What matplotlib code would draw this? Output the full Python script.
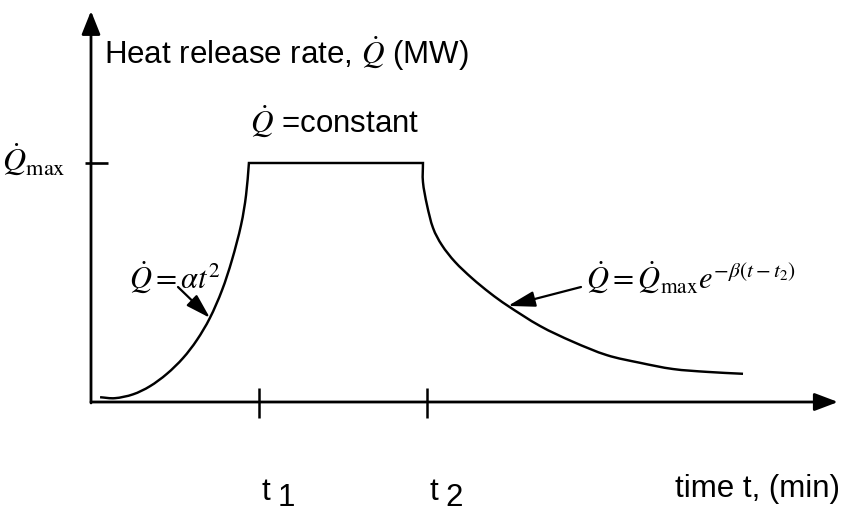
import matplotlib
matplotlib.use("Agg")
import matplotlib.pyplot as plt
from matplotlib.path import Path
from matplotlib.patches import PathPatch

plt.rcParams['font.family'] = ['Liberation Sans', 'DejaVu Sans']
plt.rcParams['mathtext.fontset'] = 'stix'

# ---------------- data (schematic values) -------------
t1, t2 = 10.0, 20.0          # min
Q_MAX = 5.0                   # MW

# growth phase  Q = alpha t^2
grow_t = [0.54, 1.43, 2.50, 3.51, 4.52, 5.48, 6.31, 7.08, 7.80, 8.39, 8.93, 9.23, 9.40]
grow_q = [0.10, 0.08, 0.16, 0.33, 0.59, 0.92, 1.30, 1.76, 2.34, 2.97, 3.70, 4.33, 5.00]

# steady phase  Q = constant
plateau_t = [9.40, 19.76]
plateau_q = [5.00, 5.00]

# decay phase  Q = Qmax exp(-beta (t - t2))
decay_t = [19.76, 19.76, 20.00, 20.36, 20.89, 21.67, 22.68, 23.75, 24.82, 26.73,
           28.69, 30.71, 32.68, 34.64, 36.67, 38.81]
decay_q = [5.00, 4.60, 4.12, 3.64, 3.28, 2.93, 2.59, 2.28, 2.01, 1.59,
           1.26, 0.98, 0.82, 0.69, 0.63, 0.59]

tick_labels = ["1", "2"]

# ---------------- layout --------------------------------------------------
W, H = 842, 515
X0, SX = 91, 16.8     # pixel of t=0, pixels per minute
Y0, SY = 402, 47.8    # pixel of Q=0, pixels per MW

fig = plt.figure(figsize=(W / 100, H / 100), dpi=100)
ax = fig.add_axes([0, 0, 1, 1])
ax.axis('off')
ax.set_xlim(-X0 / SX, (W - X0) / SX)
ax.set_ylim((Y0 - H) / SY, Y0 / SY)


def px(x, y):
    """pixel position in the figure -> data coordinates"""
    return ((x - X0) / SX, (Y0 - y) / SY)


def add_spline(verts, codes, xs, ys):
    """Catmull-Rom curve through the read points, as cubic Bezier segments."""
    pts = list(zip(xs, ys))
    n = len(pts)
    ext = [(2 * pts[0][0] - pts[1][0], 2 * pts[0][1] - pts[1][1])] + pts + \
          [(2 * pts[-1][0] - pts[-2][0], 2 * pts[-1][1] - pts[-2][1])]
    for i in range(1, n):
        p0, p1, p2, p3 = ext[i - 1], ext[i], ext[i + 1], ext[i + 2]
        c1 = (p1[0] + (p2[0] - p0[0]) / 6, p1[1] + (p2[1] - p0[1]) / 6)
        c2 = (p2[0] - (p3[0] - p1[0]) / 6, p2[1] - (p3[1] - p1[1]) / 6)
        verts += [c1, c2, p2]
        codes += [Path.CURVE4] * 3


BLACK = 'black'

# axes with arrows
ax.annotate('', xy=px(838, Y0), xytext=(0, 0),
            arrowprops=dict(arrowstyle='-|>,head_length=0.95,head_width=0.36',
                            mutation_scale=15, lw=2.0, color=BLACK,
                            shrinkA=0, shrinkB=0))
ax.annotate('', xy=px(X0, 11), xytext=(0, -0.02),
            arrowprops=dict(arrowstyle='-|>,head_length=0.95,head_width=0.38',
                            mutation_scale=15, lw=2.0, color=BLACK,
                            shrinkA=0, shrinkB=0))

# ticks
ax.plot([px(85, 0)[0], px(108, 0)[0]], [Q_MAX, Q_MAX], color=BLACK, lw=1.9,
        solid_capstyle='butt')
for tt in (t1, t2):
    ax.plot([tt, tt], [px(0, 388)[1], px(0, 418)[1]], color=BLACK, lw=1.8,
            solid_capstyle='butt')

# fire curve: growth -> plateau -> decay
verts = [(grow_t[0], grow_q[0])]
codes = [Path.MOVETO]
add_spline(verts, codes, grow_t, grow_q)
verts.append((plateau_t[1], plateau_q[1]))
codes.append(Path.LINETO)
add_spline(verts, codes, decay_t, decay_q)
ax.add_patch(PathPatch(Path(verts, codes), facecolor='none', edgecolor=BLACK,
                       lw=1.75, joinstyle='miter', capstyle='butt'))

# texts
FS = 22.5
ax.text(*px(104, 64), r'Heat release rate, $\dot{Q}$ (MW)', fontsize=FS,
        ha='left', va='baseline')
ax.text(*px(66, 171), r'$\dot{Q}_{\max}$', fontsize=23, ha='right', va='baseline')
ax.text(*px(250, 133), r'$\dot{Q}$ =constant', fontsize=FS, ha='left', va='baseline')
ax.text(*px(129, 289), r'$\dot{Q}=\alpha t^{2}$', fontsize=22, ha='left', va='baseline')
ax.text(*px(586, 289), r'$\dot{Q}=\dot{Q}_{\max}e^{-\beta(t-t_2)}$', fontsize=22,
        ha='left', va='baseline')
ax.text(*px(840, 497), 'time t, (min)', fontsize=FS, ha='right', va='baseline')

for tt, lab in zip((t1, t2), tick_labels):
    xt = tt + px(X0 + 2.5, 0)[0]
    ax.text(xt, px(0, 500)[1], 't', fontsize=FS, ha='left', va='baseline')
    ax.text(xt + px(X0 + 16, 0)[0], px(0, 506)[1], lab, fontsize=FS,
            ha='left', va='baseline')

# annotation arrows pointing at the curve
ax.annotate('', xy=(grow_t[7], grow_q[7]), xytext=px(178, 287),
            arrowprops=dict(arrowstyle='-|>,head_length=1.0,head_width=0.3',
                            mutation_scale=15, lw=1.6, color=BLACK,
                            shrinkA=0, shrinkB=0))
ax.annotate('', xy=(decay_t[8], decay_q[8]), xytext=px(581, 287),
            arrowprops=dict(arrowstyle='-|>,head_length=1.1,head_width=0.32',
                            mutation_scale=15, lw=1.6, color=BLACK,
                            shrinkA=0, shrinkB=0))

fig.savefig('out.png', dpi=100)
